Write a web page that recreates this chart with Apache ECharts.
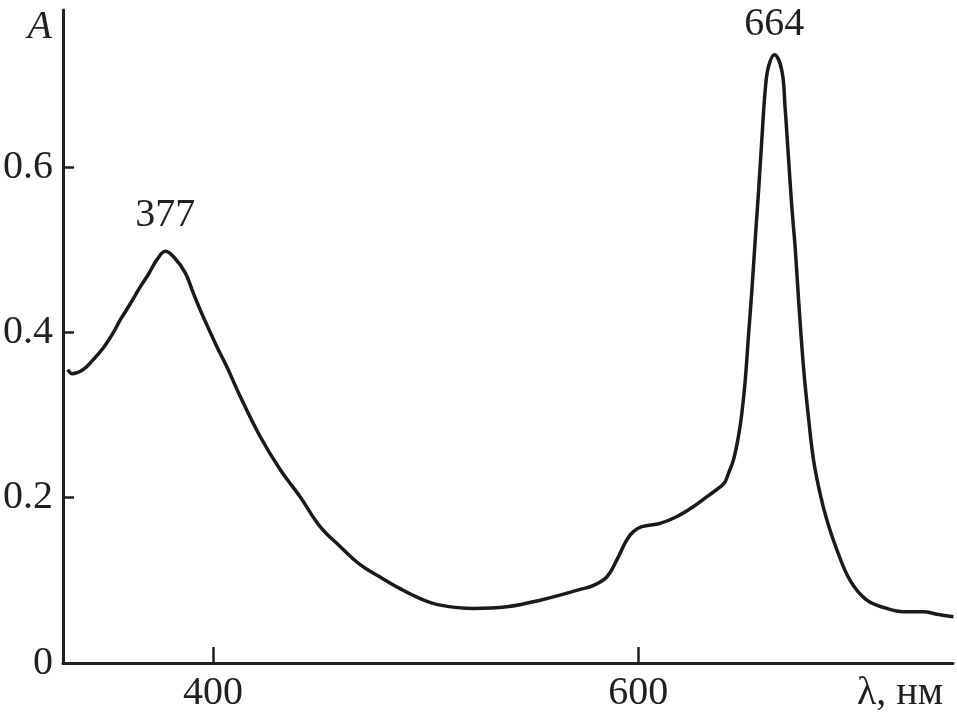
<!DOCTYPE html>
<html>
<head>
<meta charset="utf-8">
<script src="https://cdn.jsdelivr.net/npm/echarts@6/dist/echarts.min.js"></script>
<style>html,body{margin:0;padding:0;background:#fff;}#c{width:957px;height:719px;}</style>
</head>
<body>
<div id="c"></div>
<script>
const wavelengths = [331.8, 333.7, 339, 343.7, 348.4, 353, 356.4, 361, 365.8, 369.6, 373.7, 377.6, 382, 387, 390.7, 395.4, 401.8, 406.6, 412.9, 422.2, 431.6, 441, 450.4, 459.8, 469.2, 478.6, 488, 497.5, 506.9, 522.5, 538.2, 553.9, 572.7, 579, 585.2, 590, 594.6, 597.7, 601.7, 610.3, 618, 625.8, 632.2, 638.5, 640.8, 642.5, 644.8, 647.1, 648.7, 650.3, 651.8, 653.4, 655.3, 656.6, 658.1, 659.7, 661.2, 664, 667.5, 669, 670.6, 672.2, 673.8, 675.4, 677.7, 680, 682.4, 685.5, 688.7, 693.4, 699.6, 707.5, 716.9, 724.7, 734, 740.4, 748.2];
const absorbance = [0.355, 0.350, 0.355, 0.367, 0.381, 0.399, 0.415, 0.434, 0.455, 0.470, 0.488, 0.498, 0.490, 0.472, 0.448, 0.419, 0.383, 0.358, 0.322, 0.274, 0.234, 0.201, 0.165, 0.141, 0.119, 0.104, 0.090, 0.078, 0.070, 0.066, 0.068, 0.076, 0.089, 0.094, 0.104, 0.125, 0.149, 0.159, 0.165, 0.169, 0.177, 0.189, 0.201, 0.213, 0.219, 0.230, 0.246, 0.274, 0.302, 0.342, 0.395, 0.450, 0.524, 0.572, 0.633, 0.693, 0.721, 0.736, 0.717, 0.673, 0.613, 0.552, 0.502, 0.439, 0.358, 0.298, 0.246, 0.205, 0.173, 0.137, 0.100, 0.076, 0.066, 0.062, 0.062, 0.059, 0.056];
const xTicks = [400, 600];
const yTicks = [0, 0.2, 0.4, 0.6];
const peakLabels = ['377', '664'];
const peakX = [377.6, 664];
const peakY = [0.498, 0.736];
const peakLabelGap = [16, 10];

const font = 'Liberation Serif';
const ink = '#231f20';
const chart = echarts.init(document.getElementById('c'));
chart.setOption({
  animation: false,
  backgroundColor: '#fff',
  grid: { left: 63, right: 4, top: 10, bottom: 56, containLabel: false },
  xAxis: {
    type: 'value', min: 329.5, max: 748,
    name: 'λ, нм', nameLocation: 'end', nameGap: -10,
    nameTextStyle: { fontFamily: font, fontSize: 40, color: ink, align: 'right', verticalAlign: 'top', padding: [10, 0, 0, 0] },
    axisLine: { show: true, lineStyle: { color: ink, width: 3 } },
    axisTick: { show: true, inside: true, length: 16, lineStyle: { color: ink, width: 2.5 }, customValues: xTicks },
    axisLabel: { show: true, customValues: xTicks, fontFamily: font, fontSize: 40, color: ink, margin: 10 },
    splitLine: { show: false }
  },
  yAxis: {
    type: 'value', min: 0, max: 0.79,
    name: 'A', nameLocation: 'end', nameGap: 3,
    nameTextStyle: { fontFamily: font, fontStyle: 'italic', fontSize: 40, color: ink, align: 'right', verticalAlign: 'top', padding: [0, 11, 0, 0] },
    axisLine: { show: true, lineStyle: { color: ink, width: 3 } },
    axisTick: { show: true, inside: true, length: 11, lineStyle: { color: ink, width: 2.5 }, customValues: yTicks },
    axisLabel: { show: true, customValues: yTicks, fontFamily: font, fontSize: 40, color: ink, margin: 10,
      formatter: v => (v === 0 ? '0' : String(Math.round(v * 10) / 10)) },
    splitLine: { show: false }
  },
  series: [{
    type: 'line',
    data: wavelengths.map((x, i) => [x, absorbance[i]]),
    smooth: 0.4,
    showSymbol: false,
    lineStyle: { color: '#1a1a1a', width: 3.5 },
    markPoint: {
      symbol: 'circle', symbolSize: 0,
      label: { show: true, position: 'top', fontFamily: font, fontSize: 40, color: ink, formatter: '{b}' },
      data: peakLabels.map((n, i) => ({ name: n, coord: [peakX[i], peakY[i]], label: { distance: peakLabelGap[i] } }))
    }
  }]
});
</script>
</body>
</html>
